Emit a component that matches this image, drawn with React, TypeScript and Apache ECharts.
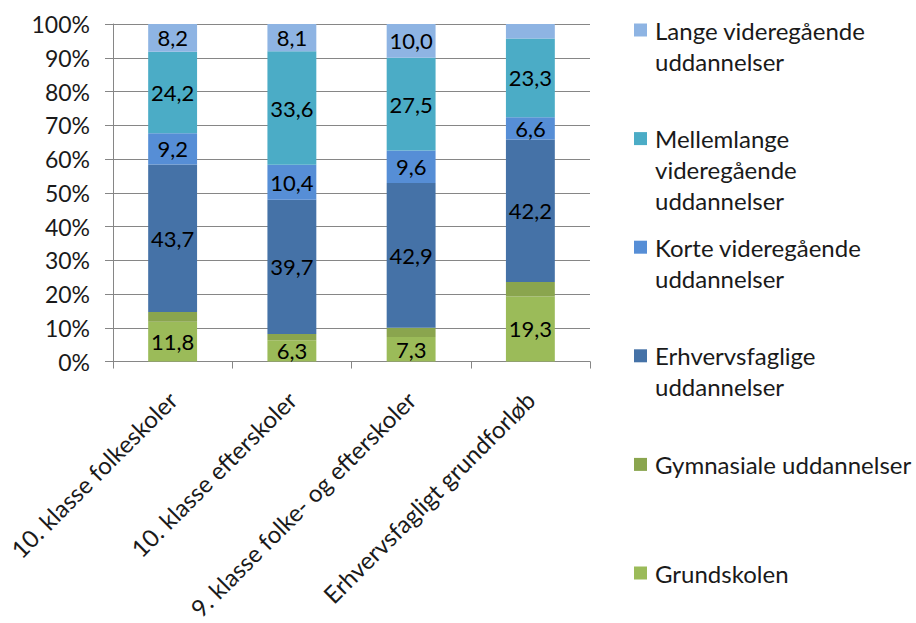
import React, { useEffect, useRef } from "react";
import * as echarts from "echarts";

const categories = [
  "10. klasse folkeskoler",
  "10. klasse efterskoler",
  "9. klasse folke- og efterskoler",
  "Erhvervsfagligt grundforløb",
];

const seriesNames = [
  "Grundskolen",
  "Gymnasiale uddannelser",
  "Erhvervsfaglige uddannelser",
  "Korte videregående uddannelser",
  "Mellemlange videregående uddannelser",
  "Lange videregående uddannelser",
];

const legendLabels = [
  "Grundskolen",
  "Gymnasiale uddannelser",
  "Erhvervsfaglige\nuddannelser",
  "Korte videregående\nuddannelser",
  "Mellemlange\nvideregående\nuddannelser",
  "Lange videregående\nuddannelser",
];

const grundskolen = [11.8, 6.3, 7.3, 19.3];
const gymnasiale = [2.9, 1.9, 2.7, 4.3];
const erhvervsfaglige = [43.7, 39.7, 42.9, 42.2];
const korte = [9.2, 10.4, 9.6, 6.6];
const mellemlange = [24.2, 33.6, 27.5, 23.3];
const lange = [8.2, 8.1, 10.0, 4.3];

const labelShown = [
  [true, true, true, true],
  [false, false, false, false],
  [true, true, true, true],
  [true, true, true, true],
  [true, true, true, true],
  [true, true, true, false],
];

const seriesValues = [grundskolen, gymnasiale, erhvervsfaglige, korte, mellemlange, lange];
const colors = ["#9BBB59", "#8AA54E", "#4572A7", "#568ED6", "#4BACC6", "#8EB4E3"];

const FONT = "Lato";

export default function App() {
  const ref = useRef<HTMLDivElement>(null);
  useEffect(() => {
    const chart = echarts.init(ref.current!, null, { renderer: "svg" });
    const series = seriesValues.map((vals, si) => ({
      name: seriesNames[si],
      type: "bar",
      stack: "total",
      barWidth: "41%",
      itemStyle: { color: colors[si] },
      label: {
        show: true,
        position: "inside",
        color: "#000",
        fontFamily: FONT,
        fontSize: 22,
        formatter: (p: any) =>
          labelShown[si][p.dataIndex] ? p.value.toFixed(1).replace(".", ",") : "",
      },
      data: vals,
    }));

    const legendGraphics: any[] = [];
    for (let k = 0; k < seriesNames.length; k++) {
      const si = seriesNames.length - 1 - k;
      const cy = 30 + k * 108.6;
      legendGraphics.push({
        type: "rect",
        shape: { x: 634, y: cy - 6.5, width: 13, height: 13 },
        style: { fill: colors[si] },
      });
      legendGraphics.push({
        type: "text",
        x: 655,
        y: cy - 15.5,
        style: {
          text: legendLabels[si],
          fill: "#1a1a1a",
          fontFamily: FONT,
          fontSize: 24,
          lineHeight: 31,
          verticalAlign: "top",
          align: "left",
        },
      });
    }

    chart.setOption({
      animation: false,
      grid: { left: 113, right: 326, top: 24, bottom: 259, containLabel: false },
      xAxis: {
        type: "category",
        data: categories,
        axisLine: { show: true, lineStyle: { color: "#868686" } },
        axisTick: { show: true, length: 7, lineStyle: { color: "#868686" } },
        axisLabel: {
          rotate: 45,
          interval: 0,
          margin: 34,
          color: "#1a1a1a",
          fontFamily: FONT,
          fontSize: 24,
        },
      },
      yAxis: {
        type: "value",
        min: 0,
        max: 100,
        interval: 10,
        axisLine: { show: true, lineStyle: { color: "#868686" } },
        axisTick: { show: true, length: 8, lineStyle: { color: "#868686" } },
        splitLine: { show: true, lineStyle: { color: "#868686", width: 1 } },
        axisLabel: {
          formatter: "{value}%",
          color: "#1a1a1a",
          fontFamily: FONT,
          fontSize: 23,
          margin: 23,
        },
      },
      series,
      graphic: legendGraphics,
    });
    return () => chart.dispose();
  }, []);
  return (
    <div
      ref={ref}
      style={{ position: "fixed", left: 0, top: 0, width: 916, height: 623, background: "#fff" }}
    />
  );
}
